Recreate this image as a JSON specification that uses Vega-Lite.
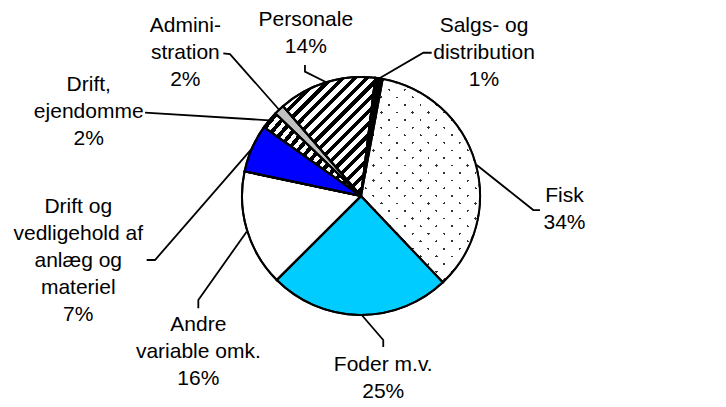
{
  "$schema": "https://vega.github.io/schema/vega-lite/v6.json",
  "width": 722,
  "height": 392,
  "autosize": {"type": "none"},
  "padding": {"left": 0, "top": 0, "right": 4, "bottom": 15},
  "background": "white",
  "config": {"view": {"stroke": null}},
  "datasets": {
    "slices": [
      {"ord": 1, "cat": "Fisk", "pct": 35.0},
      {"ord": 2, "cat": "Foder m.v.", "pct": 24.6},
      {"ord": 3, "cat": "Andre variable omk.", "pct": 15.8},
      {"ord": 4, "cat": "Drift og vedligehold af anlæg og materiel", "pct": 6.5},
      {"ord": 5, "cat": "Drift, ejendomme", "pct": 2.4},
      {"ord": 6, "cat": "Administration", "pct": 1.4},
      {"ord": 7, "cat": "Personale", "pct": 13.3},
      {"ord": 8, "cat": "Salgs- og distribution", "pct": 1.0}
    ],
    "labels": [
      {"cat": "Fisk", "lines": ["Fisk", "34%"], "lx": 171.0, "ly": 0.2},
      {"cat": "Foder m.v.", "lines": ["Foder m.v.", "25%"], "lx": 18.7, "ly": -142.4},
      {"cat": "Andre variable omk.", "lines": ["Andre", "variable omk.", "16%"], "lx": -136.7, "ly": -108.8},
      {"cat": "Drift og vedligehold af anlæg og materiel", "lines": ["Drift og", "vedligehold af", "anlæg og", "materiel", "7%"], "lx": -237.6, "ly": -9.0},
      {"cat": "Drift, ejendomme", "lines": ["Drift,", "ejendomme", "2%"], "lx": -228.8, "ly": 93.3},
      {"cat": "Administration", "lines": ["Admini-", "stration", "2%"], "lx": -147.6, "ly": 143.0},
      {"cat": "Personale", "lines": ["Personale", "14%"], "lx": -46.4, "ly": 147.6},
      {"cat": "Salgs- og distribution", "lines": ["Salgs- og", "distribution", "1%"], "lx": 103.4, "ly": 143.1}
    ],
    "leaders": [
      {"cat": "Fisk", "i": 0, "x": 97.2, "y": 26.1},
      {"cat": "Fisk", "i": 1, "x": 144.8, "y": -11.8},
      {"cat": "Fisk", "i": 2, "x": 150.4, "y": -11.8},
      {"cat": "Foder", "i": 0, "x": 0.6, "y": -100.0},
      {"cat": "Foder", "i": 1, "x": 18.7, "y": -121.0},
      {"cat": "Foder", "i": 2, "x": 18.7, "y": -126.9},
      {"cat": "Andre", "i": 0, "x": -96.1, "y": -30.0},
      {"cat": "Andre", "i": 1, "x": -136.7, "y": -87.4},
      {"cat": "Andre", "i": 2, "x": -136.7, "y": -94.4},
      {"cat": "DriftV", "i": 0, "x": -91.7, "y": 39.8},
      {"cat": "DriftV", "i": 1, "x": -173.1, "y": -53.8},
      {"cat": "DriftV", "i": 2, "x": -180.1, "y": -53.8},
      {"cat": "DriftE", "i": 0, "x": -77.1, "y": 63.6},
      {"cat": "DriftE", "i": 1, "x": -181.5, "y": 70.0},
      {"cat": "Admin", "i": 0, "x": -68.8, "y": 72.5},
      {"cat": "Admin", "i": 1, "x": -110.1, "y": 119.3},
      {"cat": "Admin", "i": 2, "x": -115.7, "y": 119.9},
      {"cat": "Personale", "i": 0, "x": -29.2, "y": 95.6},
      {"cat": "Personale", "i": 1, "x": -47.1, "y": 104.5},
      {"cat": "Personale", "i": 2, "x": -47.1, "y": 110.1},
      {"cat": "Salgs", "i": 0, "x": 15.2, "y": 98.8},
      {"cat": "Salgs", "i": 1, "x": 52.4, "y": 120.4},
      {"cat": "Salgs", "i": 2, "x": 59.4, "y": 120.4}
    ]
  },
  "layer": [
    {
      "data": {"name": "slices"},
      "mark": {"type": "arc", "outerRadius": 119, "stroke": "#000", "strokeWidth": 2},
      "encoding": {
        "theta": {"field": "pct", "type": "quantitative", "stack": true, "scale": {"range": [0.1833, 6.4665]}},
        "order": {"field": "ord", "type": "quantitative"},
        "fill": {
          "condition": [
            {"test": "datum.ord === 1", "value": {"gradient": "linear", "x1": 0, "y1": 1, "x2": 0.67, "y2": -0.187, "stops": [
              {"offset": 0.0198, "color": "#fff"}, {"offset": 0.0198, "color": "#333"}, {"offset": 0.0278, "color": "#333"}, {"offset": 0.0278, "color": "#fff"},
              {"offset": 0.0674, "color": "#fff"}, {"offset": 0.0674, "color": "#333"}, {"offset": 0.0754, "color": "#333"}, {"offset": 0.0754, "color": "#fff"},
              {"offset": 0.1150, "color": "#fff"}, {"offset": 0.1150, "color": "#333"}, {"offset": 0.1230, "color": "#333"}, {"offset": 0.1230, "color": "#fff"},
              {"offset": 0.1627, "color": "#fff"}, {"offset": 0.1627, "color": "#333"}, {"offset": 0.1707, "color": "#333"}, {"offset": 0.1707, "color": "#fff"},
              {"offset": 0.2103, "color": "#fff"}, {"offset": 0.2103, "color": "#333"}, {"offset": 0.2183, "color": "#333"}, {"offset": 0.2183, "color": "#fff"},
              {"offset": 0.2579, "color": "#fff"}, {"offset": 0.2579, "color": "#333"}, {"offset": 0.2659, "color": "#333"}, {"offset": 0.2659, "color": "#fff"},
              {"offset": 0.3055, "color": "#fff"}, {"offset": 0.3055, "color": "#333"}, {"offset": 0.3135, "color": "#333"}, {"offset": 0.3135, "color": "#fff"},
              {"offset": 0.3531, "color": "#fff"}, {"offset": 0.3531, "color": "#333"}, {"offset": 0.3611, "color": "#333"}, {"offset": 0.3611, "color": "#fff"},
              {"offset": 0.4008, "color": "#fff"}, {"offset": 0.4008, "color": "#333"}, {"offset": 0.4088, "color": "#333"}, {"offset": 0.4088, "color": "#fff"},
              {"offset": 0.4484, "color": "#fff"}, {"offset": 0.4484, "color": "#333"}, {"offset": 0.4564, "color": "#333"}, {"offset": 0.4564, "color": "#fff"},
              {"offset": 0.4960, "color": "#fff"}, {"offset": 0.4960, "color": "#333"}, {"offset": 0.5040, "color": "#333"}, {"offset": 0.5040, "color": "#fff"},
              {"offset": 0.5436, "color": "#fff"}, {"offset": 0.5436, "color": "#333"}, {"offset": 0.5516, "color": "#333"}, {"offset": 0.5516, "color": "#fff"},
              {"offset": 0.5912, "color": "#fff"}, {"offset": 0.5912, "color": "#333"}, {"offset": 0.5992, "color": "#333"}, {"offset": 0.5992, "color": "#fff"},
              {"offset": 0.6389, "color": "#fff"}, {"offset": 0.6389, "color": "#333"}, {"offset": 0.6469, "color": "#333"}, {"offset": 0.6469, "color": "#fff"},
              {"offset": 0.6865, "color": "#fff"}, {"offset": 0.6865, "color": "#333"}, {"offset": 0.6945, "color": "#333"}, {"offset": 0.6945, "color": "#fff"},
              {"offset": 0.7341, "color": "#fff"}, {"offset": 0.7341, "color": "#333"}, {"offset": 0.7421, "color": "#333"}, {"offset": 0.7421, "color": "#fff"},
              {"offset": 0.7817, "color": "#fff"}, {"offset": 0.7817, "color": "#333"}, {"offset": 0.7897, "color": "#333"}, {"offset": 0.7897, "color": "#fff"},
              {"offset": 0.8293, "color": "#fff"}, {"offset": 0.8293, "color": "#333"}, {"offset": 0.8373, "color": "#333"}, {"offset": 0.8373, "color": "#fff"},
              {"offset": 0.8770, "color": "#fff"}, {"offset": 0.8770, "color": "#333"}, {"offset": 0.8850, "color": "#333"}, {"offset": 0.8850, "color": "#fff"},
              {"offset": 0.9246, "color": "#fff"}, {"offset": 0.9246, "color": "#333"}, {"offset": 0.9326, "color": "#333"}, {"offset": 0.9326, "color": "#fff"},
              {"offset": 0.9722, "color": "#fff"}, {"offset": 0.9722, "color": "#333"}, {"offset": 0.9802, "color": "#333"}, {"offset": 0.9802, "color": "#fff"}
            ]}},
            {"test": "datum.ord === 5", "value": {"gradient": "linear", "x1": 0, "y1": 0, "x2": 1.141, "y2": 0.799, "stops": [
              {"offset": 0, "color": "#000"}, {"offset": 0.03125, "color": "#000"}, {"offset": 0.03125, "color": "#fff"}, {"offset": 0.0625, "color": "#fff"},
              {"offset": 0.0625, "color": "#000"}, {"offset": 0.09375, "color": "#000"}, {"offset": 0.09375, "color": "#fff"}, {"offset": 0.125, "color": "#fff"},
              {"offset": 0.125, "color": "#000"}, {"offset": 0.15625, "color": "#000"}, {"offset": 0.15625, "color": "#fff"}, {"offset": 0.1875, "color": "#fff"},
              {"offset": 0.1875, "color": "#000"}, {"offset": 0.21875, "color": "#000"}, {"offset": 0.21875, "color": "#fff"}, {"offset": 0.25, "color": "#fff"},
              {"offset": 0.25, "color": "#000"}, {"offset": 0.28125, "color": "#000"}, {"offset": 0.28125, "color": "#fff"}, {"offset": 0.3125, "color": "#fff"},
              {"offset": 0.3125, "color": "#000"}, {"offset": 0.34375, "color": "#000"}, {"offset": 0.34375, "color": "#fff"}, {"offset": 0.375, "color": "#fff"},
              {"offset": 0.375, "color": "#000"}, {"offset": 0.40625, "color": "#000"}, {"offset": 0.40625, "color": "#fff"}, {"offset": 0.4375, "color": "#fff"},
              {"offset": 0.4375, "color": "#000"}, {"offset": 0.46875, "color": "#000"}, {"offset": 0.46875, "color": "#fff"}, {"offset": 0.5, "color": "#fff"},
              {"offset": 0.5, "color": "#000"}, {"offset": 0.53125, "color": "#000"}, {"offset": 0.53125, "color": "#fff"}, {"offset": 0.5625, "color": "#fff"},
              {"offset": 0.5625, "color": "#000"}, {"offset": 0.59375, "color": "#000"}, {"offset": 0.59375, "color": "#fff"}, {"offset": 0.625, "color": "#fff"},
              {"offset": 0.625, "color": "#000"}, {"offset": 0.65625, "color": "#000"}, {"offset": 0.65625, "color": "#fff"}, {"offset": 0.6875, "color": "#fff"},
              {"offset": 0.6875, "color": "#000"}, {"offset": 0.71875, "color": "#000"}, {"offset": 0.71875, "color": "#fff"}, {"offset": 0.75, "color": "#fff"},
              {"offset": 0.75, "color": "#000"}, {"offset": 0.78125, "color": "#000"}, {"offset": 0.78125, "color": "#fff"}, {"offset": 0.8125, "color": "#fff"},
              {"offset": 0.8125, "color": "#000"}, {"offset": 0.84375, "color": "#000"}, {"offset": 0.84375, "color": "#fff"}, {"offset": 0.875, "color": "#fff"},
              {"offset": 0.875, "color": "#000"}, {"offset": 0.90625, "color": "#000"}, {"offset": 0.90625, "color": "#fff"}, {"offset": 0.9375, "color": "#fff"},
              {"offset": 0.9375, "color": "#000"}, {"offset": 0.96875, "color": "#000"}, {"offset": 0.96875, "color": "#fff"}, {"offset": 1, "color": "#fff"}
            ]}},
            {"test": "datum.ord === 7", "value": {"gradient": "linear", "x1": 0, "y1": 0, "x2": 0.862, "y2": 1.108, "stops": [
              {"offset": 0, "color": "#000"}, {"offset": 0.025, "color": "#000"}, {"offset": 0.025, "color": "#fff"}, {"offset": 0.0556, "color": "#fff"},
              {"offset": 0.0556, "color": "#000"}, {"offset": 0.0806, "color": "#000"}, {"offset": 0.0806, "color": "#fff"}, {"offset": 0.1111, "color": "#fff"},
              {"offset": 0.1111, "color": "#000"}, {"offset": 0.1361, "color": "#000"}, {"offset": 0.1361, "color": "#fff"}, {"offset": 0.1667, "color": "#fff"},
              {"offset": 0.1667, "color": "#000"}, {"offset": 0.1917, "color": "#000"}, {"offset": 0.1917, "color": "#fff"}, {"offset": 0.2222, "color": "#fff"},
              {"offset": 0.2222, "color": "#000"}, {"offset": 0.2472, "color": "#000"}, {"offset": 0.2472, "color": "#fff"}, {"offset": 0.2778, "color": "#fff"},
              {"offset": 0.2778, "color": "#000"}, {"offset": 0.3028, "color": "#000"}, {"offset": 0.3028, "color": "#fff"}, {"offset": 0.3333, "color": "#fff"},
              {"offset": 0.3333, "color": "#000"}, {"offset": 0.3583, "color": "#000"}, {"offset": 0.3583, "color": "#fff"}, {"offset": 0.3889, "color": "#fff"},
              {"offset": 0.3889, "color": "#000"}, {"offset": 0.4139, "color": "#000"}, {"offset": 0.4139, "color": "#fff"}, {"offset": 0.4444, "color": "#fff"},
              {"offset": 0.4444, "color": "#000"}, {"offset": 0.4694, "color": "#000"}, {"offset": 0.4694, "color": "#fff"}, {"offset": 0.5, "color": "#fff"},
              {"offset": 0.5, "color": "#000"}, {"offset": 0.525, "color": "#000"}, {"offset": 0.525, "color": "#fff"}, {"offset": 0.5556, "color": "#fff"},
              {"offset": 0.5556, "color": "#000"}, {"offset": 0.5806, "color": "#000"}, {"offset": 0.5806, "color": "#fff"}, {"offset": 0.6111, "color": "#fff"},
              {"offset": 0.6111, "color": "#000"}, {"offset": 0.6361, "color": "#000"}, {"offset": 0.6361, "color": "#fff"}, {"offset": 0.6667, "color": "#fff"},
              {"offset": 0.6667, "color": "#000"}, {"offset": 0.6917, "color": "#000"}, {"offset": 0.6917, "color": "#fff"}, {"offset": 0.7222, "color": "#fff"},
              {"offset": 0.7222, "color": "#000"}, {"offset": 0.7472, "color": "#000"}, {"offset": 0.7472, "color": "#fff"}, {"offset": 0.7778, "color": "#fff"},
              {"offset": 0.7778, "color": "#000"}, {"offset": 0.8028, "color": "#000"}, {"offset": 0.8028, "color": "#fff"}, {"offset": 0.8333, "color": "#fff"},
              {"offset": 0.8333, "color": "#000"}, {"offset": 0.8583, "color": "#000"}, {"offset": 0.8583, "color": "#fff"}, {"offset": 0.8889, "color": "#fff"},
              {"offset": 0.8889, "color": "#000"}, {"offset": 0.9139, "color": "#000"}, {"offset": 0.9139, "color": "#fff"}, {"offset": 0.9444, "color": "#fff"},
              {"offset": 0.9444, "color": "#000"}, {"offset": 0.9694, "color": "#000"}, {"offset": 0.9694, "color": "#fff"}, {"offset": 1, "color": "#fff"}
            ]}}
          ],
          "field": "cat",
          "type": "nominal",
          "legend": null,
          "scale": {
            "domain": ["Fisk", "Foder m.v.", "Andre variable omk.", "Drift og vedligehold af anlæg og materiel", "Drift, ejendomme", "Administration", "Personale", "Salgs- og distribution"],
            "range": ["#ffffff", "#00ccff", "#ffffff", "#0000ff", "#808080", "#c0c0c0", "#808080", "#000000"]
          }
        }
      }
    },
    {
      "data": {"name": "slices"},
      "mark": {"type": "arc", "outerRadius": 119, "stroke": "#000", "strokeWidth": 2},
      "encoding": {
        "theta": {"field": "pct", "type": "quantitative", "stack": true, "scale": {"range": [0.1833, 6.4665]}},
        "order": {"field": "ord", "type": "quantitative"},
        "fill": {
          "condition": [
            {"test": "datum.ord === 1", "value": {"gradient": "linear", "x1": 0, "y1": 0, "x2": 0.67, "y2": 1.187, "stops": [
              {"offset": 0.0198, "color": "#fff"}, {"offset": 0.0198, "color": "rgba(255,255,255,0)"}, {"offset": 0.0278, "color": "rgba(255,255,255,0)"}, {"offset": 0.0278, "color": "#fff"},
              {"offset": 0.0674, "color": "#fff"}, {"offset": 0.0674, "color": "rgba(255,255,255,0)"}, {"offset": 0.0754, "color": "rgba(255,255,255,0)"}, {"offset": 0.0754, "color": "#fff"},
              {"offset": 0.1150, "color": "#fff"}, {"offset": 0.1150, "color": "rgba(255,255,255,0)"}, {"offset": 0.1230, "color": "rgba(255,255,255,0)"}, {"offset": 0.1230, "color": "#fff"},
              {"offset": 0.1627, "color": "#fff"}, {"offset": 0.1627, "color": "rgba(255,255,255,0)"}, {"offset": 0.1707, "color": "rgba(255,255,255,0)"}, {"offset": 0.1707, "color": "#fff"},
              {"offset": 0.2103, "color": "#fff"}, {"offset": 0.2103, "color": "rgba(255,255,255,0)"}, {"offset": 0.2183, "color": "rgba(255,255,255,0)"}, {"offset": 0.2183, "color": "#fff"},
              {"offset": 0.2579, "color": "#fff"}, {"offset": 0.2579, "color": "rgba(255,255,255,0)"}, {"offset": 0.2659, "color": "rgba(255,255,255,0)"}, {"offset": 0.2659, "color": "#fff"},
              {"offset": 0.3055, "color": "#fff"}, {"offset": 0.3055, "color": "rgba(255,255,255,0)"}, {"offset": 0.3135, "color": "rgba(255,255,255,0)"}, {"offset": 0.3135, "color": "#fff"},
              {"offset": 0.3531, "color": "#fff"}, {"offset": 0.3531, "color": "rgba(255,255,255,0)"}, {"offset": 0.3611, "color": "rgba(255,255,255,0)"}, {"offset": 0.3611, "color": "#fff"},
              {"offset": 0.4008, "color": "#fff"}, {"offset": 0.4008, "color": "rgba(255,255,255,0)"}, {"offset": 0.4088, "color": "rgba(255,255,255,0)"}, {"offset": 0.4088, "color": "#fff"},
              {"offset": 0.4484, "color": "#fff"}, {"offset": 0.4484, "color": "rgba(255,255,255,0)"}, {"offset": 0.4564, "color": "rgba(255,255,255,0)"}, {"offset": 0.4564, "color": "#fff"},
              {"offset": 0.4960, "color": "#fff"}, {"offset": 0.4960, "color": "rgba(255,255,255,0)"}, {"offset": 0.5040, "color": "rgba(255,255,255,0)"}, {"offset": 0.5040, "color": "#fff"},
              {"offset": 0.5436, "color": "#fff"}, {"offset": 0.5436, "color": "rgba(255,255,255,0)"}, {"offset": 0.5516, "color": "rgba(255,255,255,0)"}, {"offset": 0.5516, "color": "#fff"},
              {"offset": 0.5912, "color": "#fff"}, {"offset": 0.5912, "color": "rgba(255,255,255,0)"}, {"offset": 0.5992, "color": "rgba(255,255,255,0)"}, {"offset": 0.5992, "color": "#fff"},
              {"offset": 0.6389, "color": "#fff"}, {"offset": 0.6389, "color": "rgba(255,255,255,0)"}, {"offset": 0.6469, "color": "rgba(255,255,255,0)"}, {"offset": 0.6469, "color": "#fff"},
              {"offset": 0.6865, "color": "#fff"}, {"offset": 0.6865, "color": "rgba(255,255,255,0)"}, {"offset": 0.6945, "color": "rgba(255,255,255,0)"}, {"offset": 0.6945, "color": "#fff"},
              {"offset": 0.7341, "color": "#fff"}, {"offset": 0.7341, "color": "rgba(255,255,255,0)"}, {"offset": 0.7421, "color": "rgba(255,255,255,0)"}, {"offset": 0.7421, "color": "#fff"},
              {"offset": 0.7817, "color": "#fff"}, {"offset": 0.7817, "color": "rgba(255,255,255,0)"}, {"offset": 0.7897, "color": "rgba(255,255,255,0)"}, {"offset": 0.7897, "color": "#fff"},
              {"offset": 0.8293, "color": "#fff"}, {"offset": 0.8293, "color": "rgba(255,255,255,0)"}, {"offset": 0.8373, "color": "rgba(255,255,255,0)"}, {"offset": 0.8373, "color": "#fff"},
              {"offset": 0.8770, "color": "#fff"}, {"offset": 0.8770, "color": "rgba(255,255,255,0)"}, {"offset": 0.8850, "color": "rgba(255,255,255,0)"}, {"offset": 0.8850, "color": "#fff"},
              {"offset": 0.9246, "color": "#fff"}, {"offset": 0.9246, "color": "rgba(255,255,255,0)"}, {"offset": 0.9326, "color": "rgba(255,255,255,0)"}, {"offset": 0.9326, "color": "#fff"},
              {"offset": 0.9722, "color": "#fff"}, {"offset": 0.9722, "color": "rgba(255,255,255,0)"}, {"offset": 0.9802, "color": "rgba(255,255,255,0)"}, {"offset": 0.9802, "color": "#fff"}
            ]}}
          ],
          "value": "transparent"
        }
      }
    },
    {
      "data": {"name": "leaders"},
      "mark": {"type": "line", "stroke": "#000", "strokeWidth": 1.8, "strokeJoin": "miter"},
      "encoding": {
        "x": {"field": "x", "type": "quantitative", "axis": null, "scale": {"domain": [-303.36, 303.36], "nice": false, "zero": false}},
        "y": {"field": "y", "type": "quantitative", "axis": null, "scale": {"domain": [-164.71, 164.71], "nice": false, "zero": false}},
        "detail": {"field": "cat", "type": "nominal"},
        "order": {"field": "i", "type": "quantitative"}
      }
    },
    {
      "data": {"name": "labels"},
      "mark": {"type": "text", "font": "Liberation Sans", "fontSize": 21, "lineHeight": 27, "align": "center", "baseline": "middle", "color": "#000"},
      "encoding": {
        "x": {"field": "lx", "type": "quantitative"},
        "y": {"field": "ly", "type": "quantitative"},
        "text": {"field": "lines"}
      }
    }
  ]
}
